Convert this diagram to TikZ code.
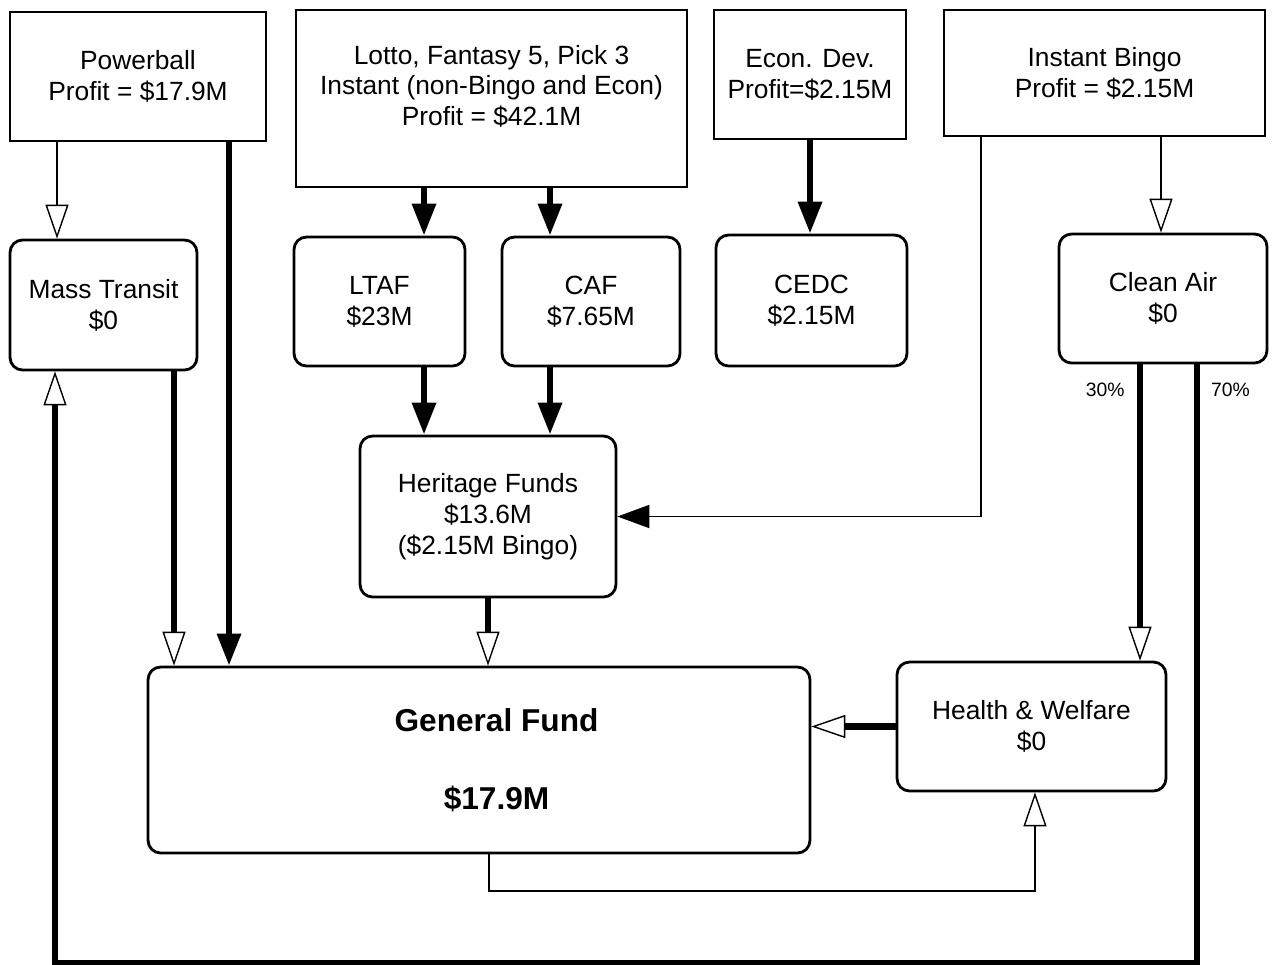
\documentclass[tikz,border=0pt]{standalone}
\usepackage{fontspec}
\setmainfont{Liberation Sans}
\usetikzlibrary{arrows.meta,positioning}

\begin{document}
\begin{tikzpicture}
				[
				x=0.02cm, y=-0.02cm, font=\fontsize{15}{17.6}\selectfont,
				%Voreinstellung für Kästen und Pfeile
				kasten/.style={draw, line width=1.6pt, align=center, inner sep=0pt},
				fonds/.style={kasten, rounded corners=0.25cm},
				dick/.style={line width=3.6pt},
				duenn/.style={line width=1.1pt},
				voll/.style={-{Triangle[length=0.64cm, width=0.46cm]}},
				offen/.style={-{Triangle[open, fill=white, length=0.68cm, width=0.46cm, line width=0.8pt]}},
				anteil/.style={font=\fontsize{11}{13}\selectfont}
				]
				
				%Rahmen
				\useasboundingbox (0,0) rectangle (1273,964);
				
				%Obere Kästen
				\node[kasten, minimum width=5.12cm, minimum height=2.58cm] (powerball) at (138,76.5) {Powerball\\Profit = \$17.9M};
				\node[kasten, minimum width=7.82cm, minimum height=3.54cm] (lotto) at (491.5,98.5) {Lotto, Fantasy 5, Pick 3\\Instant (non-Bingo and Econ)\\Profit = \$42.1M\\[-8pt]\strut};
				\node[kasten, minimum width=3.84cm, minimum height=2.58cm] (econ) at (810,74.5) {Econ. Dev.\\Profit=\$2.15M};
				\node[kasten, minimum width=6.42cm, minimum height=2.52cm] (bingo) at (1104.5,73) {Instant Bingo\\Profit = \$2.15M};
				
				%Fonds
				\node[fonds, minimum width=3.74cm, minimum height=2.6cm] (transit) at (103.5,305) {Mass Transit\\\$0};
				\node[fonds, minimum width=3.42cm, minimum height=2.58cm] (ltaf) at (379.5,301.5) {LTAF\\\$23M};
				\node[fonds, minimum width=3.56cm, minimum height=2.58cm] (caf) at (591,301.5) {CAF\\\$7.65M};
				\node[fonds, minimum width=3.82cm, minimum height=2.62cm] (cedc) at (811.5,300.5) {CEDC\\\$2.15M};
				\node[fonds, minimum width=4.16cm, minimum height=2.58cm] (cleanair) at (1163,298.5) {Clean Air\\\$0};
				\node[fonds, minimum width=5.12cm, minimum height=3.22cm] (heritage) at (488,516.5) {Heritage Funds\\\$13.6M\\(\$2.15M Bingo)};
				\node[fonds, minimum width=13.24cm, minimum height=3.72cm, font=\fontsize{18}{21.6}\selectfont\bfseries] (general) at (479,760) {\hspace{0.7cm}General Fund\\[23pt]\hspace{0.7cm}\$17.9M};
				\node[fonds, minimum width=5.38cm, minimum height=2.58cm] (health) at (1031.5,726.5) {Health \& Welfare\\\$0};
				
				%Powerball
				\draw[duenn, offen] (powerball.south -| 57,0) -- (transit.north -| 57,0);
				\draw[dick, voll] (powerball.south -| 229,0) -- (general.north -| 229,0);
				
				%Lotto
				\draw[dick, voll] (lotto.south -| 424,0) -- (ltaf.north -| 424,0);
				\draw[dick, voll] (lotto.south -| 550,0) -- (caf.north -| 550,0);
				
				%Econ. Dev.
				\draw[dick, voll] (econ.south) -- (econ.south |- cedc.north);
				
				%Instant Bingo
				\draw[duenn, offen] (bingo.south -| 1161,0) -- (cleanair.north -| 1161,0);
				\draw[duenn, voll] (bingo.south -| 981,0) |- (heritage.east);
				
				%LTAF und CAF
				\draw[dick, voll] (ltaf.south -| 424,0) -- (heritage.north -| 424,0);
				\draw[dick, voll] (caf.south -| 550,0) -- (heritage.north -| 550,0);
				
				%Mass Transit und Heritage
				\draw[dick, offen] (transit.south -| 174,0) -- (general.north -| 174,0);
				\draw[dick, offen] (heritage.south) -- (heritage.south |- general.north);
				
				%Clean Air
				\draw[dick, offen] (cleanair.south -| 1140,0) node[anteil, below left=0.19cm and 0.13cm] {30\%} -- (health.north -| 1140,0);
				\draw[dick, offen] (cleanair.south -| 1197,0) node[anteil, below right=0.19cm and 0.1cm] {70\%} -- ++(0,599) -| (transit.south -| 55,0);
				
				%Health & Welfare
				\draw[dick, offen] (health.west) -- (general.east |- health.west);
				\draw[duenn, offen] (general.south -| 489,0) -- ++(0,37) -| (health.south -| 1035,0);
			\end{tikzpicture}
\end{document}
